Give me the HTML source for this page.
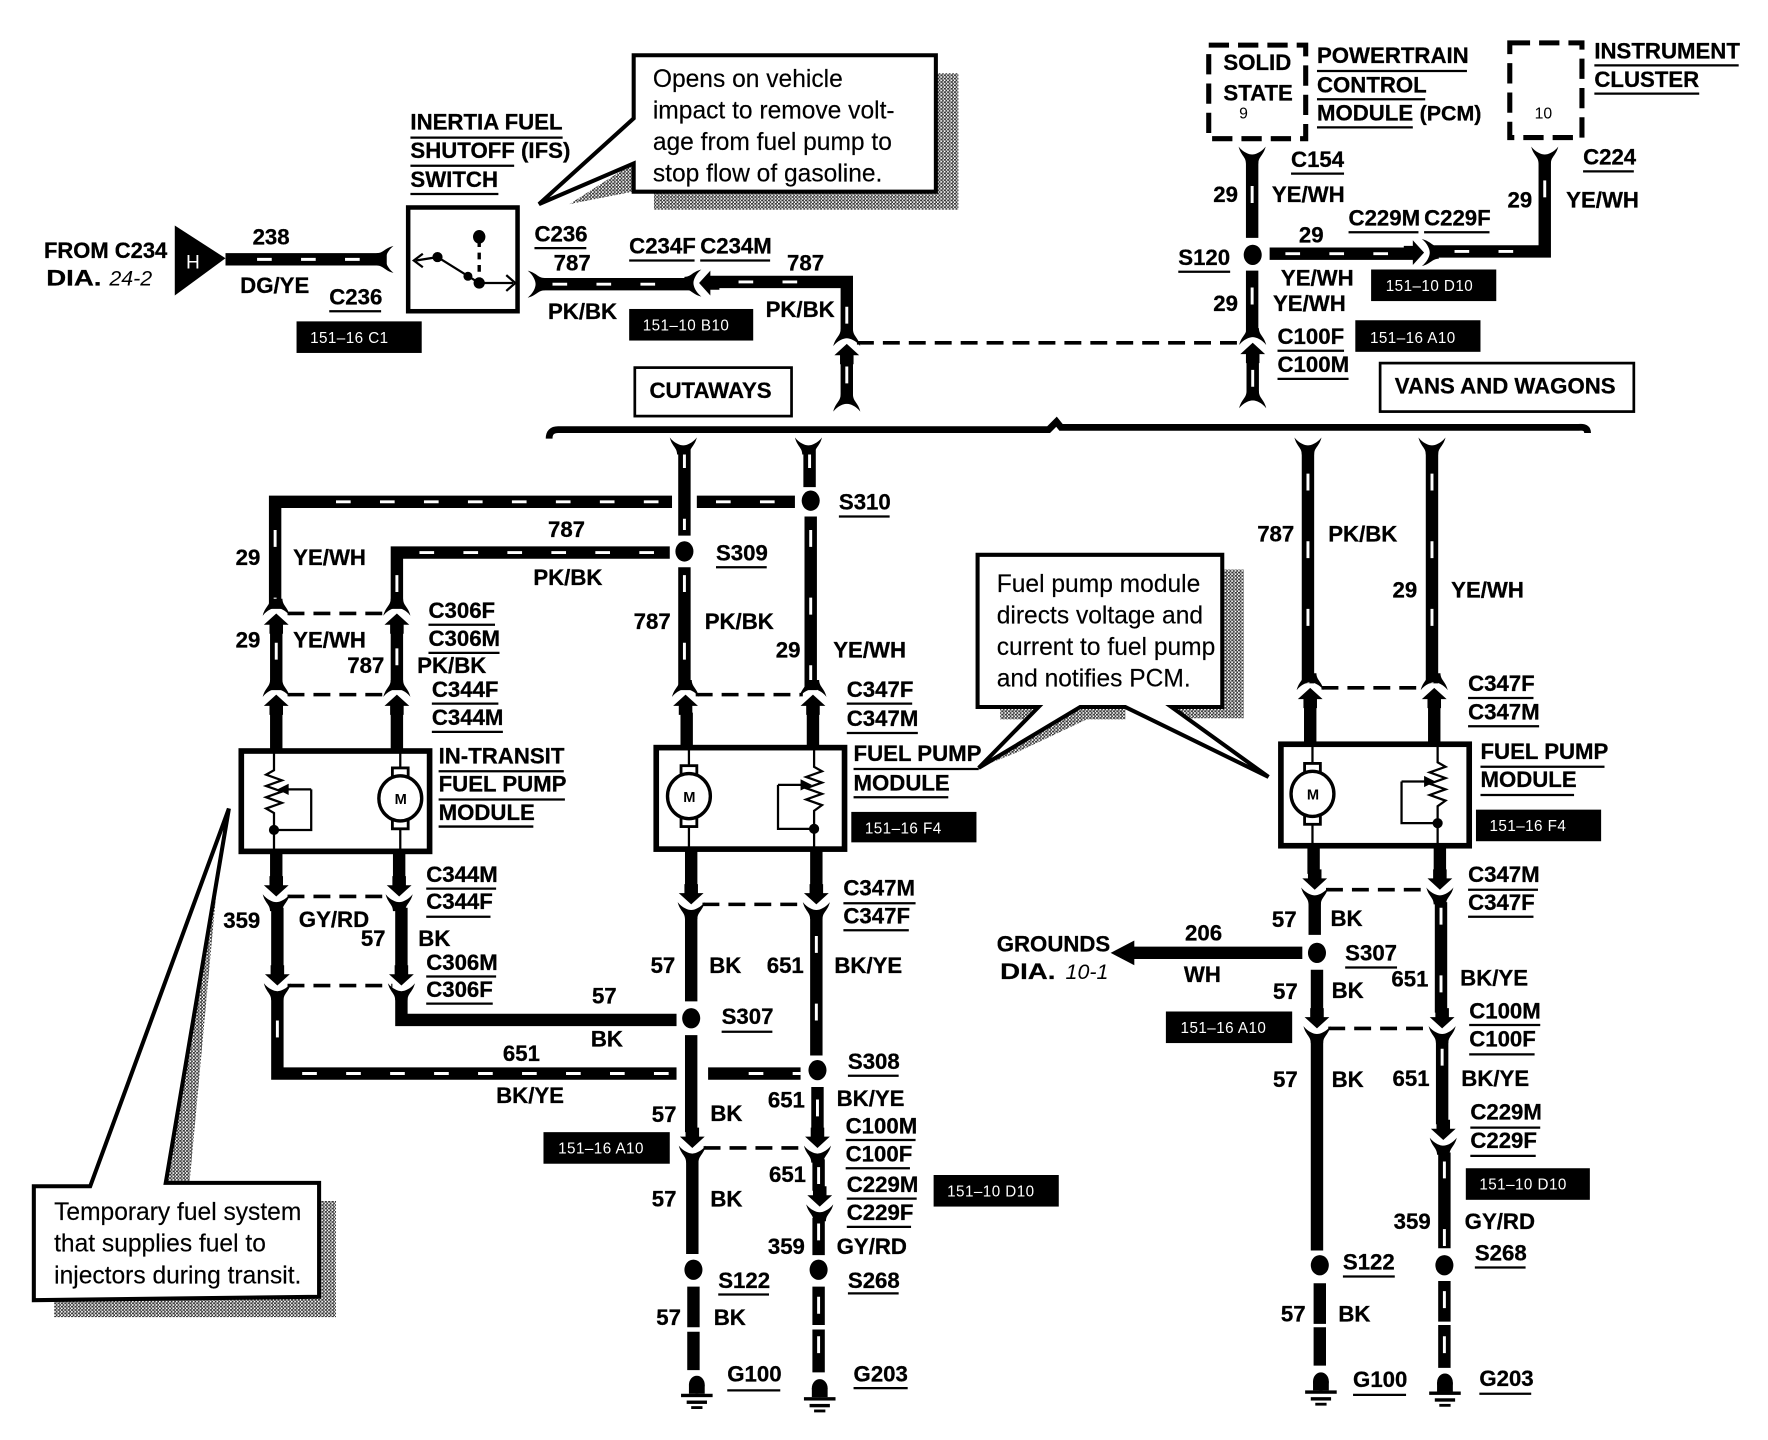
<!DOCTYPE html>
<html><head><meta charset="utf-8"><title>Fuel pump wiring diagram</title>
<style>
html,body{margin:0;padding:0;background:#fff}
svg{display:block;width:1768px;height:1440px}
text{font-family:"Liberation Sans",sans-serif;font-weight:700;font-size:19.7px;fill:#000;stroke:#000;stroke-width:.25px}
.r{font-weight:400;font-size:21.8px;stroke-width:.15px}
.s{font-weight:400;font-size:13.5px;fill:#fff;letter-spacing:.4px;stroke:none}
.n{font-weight:400;font-size:14px;stroke:none}
.i{font-weight:400;font-style:italic;font-size:19px;stroke:none}
.w{fill:none;stroke:#000;stroke-width:11}
.h{fill:none;stroke:#fff;stroke-width:2.6;stroke-dasharray:13 26}
.v{fill:none;stroke:#fff;stroke-width:2.6;stroke-dasharray:15 45}
.t{fill:none;stroke:#000;stroke-width:2}
.u{fill:none;stroke:#000;stroke-width:2}
.k{fill:none;stroke:#000;stroke-width:3.2;stroke-dasharray:15 8}
.b{fill:#000}
.c{fill:#fff;stroke:#000;stroke-width:3.6;stroke-linejoin:miter}
</style></head><body>
<svg xmlns="http://www.w3.org/2000/svg" viewBox="0 0 1568 1277" preserveAspectRatio="none">
<defs>
<pattern id="g" width="3" height="3" patternUnits="userSpaceOnUse"><rect width="3" height="3" fill="#fff"/><rect width="2" height="1.5" fill="#333"/><rect x="1.5" y="1.5" width="1.5" height="1.5" fill="#333"/></pattern>
<path id="fk" d="M-12,4C-10,-4-5.500,-5-5.500,-11L5.500,-11C5.500,-5 10,-4 12,4C8,-1 3,-3 0,-3C-3,-3-8,-1-12,4Z"/>
<g id="up"><use href="#fk" y="-2"/><path d="M0,0L-11,10-6,10-6,18 6,18 6,10 11,10Z"/></g>
<g id="gd"><ellipse cx="0" cy="8" rx="7" ry="8"/><rect x="-7" y="8" width="14" height="8"/><rect x="-14" y="16" width="28" height="3"/><rect x="-9" y="22" width="18" height="3"/><rect x="-5" y="27" width="10" height="2.500"/></g>
<g id="mo"><rect x="-7" y="-27" width="14" height="8" fill="#fff" stroke="#000" stroke-width="2.500"/><rect x="-7" y="19" width="14" height="8" fill="#fff" stroke="#000" stroke-width="2.500"/><ellipse rx="19" ry="20" fill="#fff" stroke="#000" stroke-width="3"/></g>
</defs>

<!-- callout shadows -->
<path fill="url(#g)" d="M580 170H850V186H580ZM830 65H850V186H830ZM505 181L561 145V170Z"/>
<path fill="url(#g)" d="M1085 505H1103V637H1085ZM887 627H921V638H887ZM1040 627H1103V637H1040ZM958 627H998V638H958ZM875 678L958 627L985 628L900 668Z"/>
<path fill="url(#g)" d="M48 1150H298V1168H48ZM283 1065H298V1168H283ZM148 1050L198 725L168 1050Z"/>

<!-- callouts -->
<path class="c" d="M562 49H830V170H562V145L478 181L562 105Z"/>
<path class="c" d="M867 492H1084V627H1039L1125 689L998 627H958L868 681L921 627H867Z"/>
<path class="c" d="M30 1052H80L203 717L147 1049H283V1150L30 1153Z"/>
<g class="r">
<text class="r" x="579" y="77">Opens on vehicle</text>
<text class="r" x="579" y="105">impact to remove volt-</text>
<text class="r" x="579" y="133">age from fuel pump to</text>
<text class="r" x="579" y="161">stop flow of gasoline.</text>
<text class="r" x="884" y="525">Fuel pump module</text>
<text class="r" x="884" y="553">directs voltage and</text>
<text class="r" x="884" y="581">current to fuel pump</text>
<text class="r" x="884" y="609">and notifies PCM.</text>
<text class="r" x="48" y="1082">Temporary fuel system</text>
<text class="r" x="48" y="1110">that supplies fuel to</text>
<text class="r" x="48" y="1138">injectors during transit.</text>
</g>

<!-- wires: black -->
<path class="w" d="M200 230H343"/>
<path class="w" d="M480 252H612M628 250H751V298M751 322V358"/>
<path class="w" d="M1110.500 142V211M1110.500 240V296M1111 320V355"/>
<path class="w" d="M1126 225H1256M1272 223H1370V142"/>
<path class="w" d="M596 445H244V540M618 445H705"/>
<path class="w" d="M594 490H352V540"/>
<path class="w" d="M245 560V612M352 560V612M245 632V665M352 632V665"/>
<path class="w" d="M607 398V475M607 503V612M609 632V662"/>
<path class="w" d="M718 398V432M719 458V612M721 632V662"/>
<path class="w" d="M1160 398V606M1270 398V606M1162 626V659M1272 626V659"/>
<path class="w" d="M245 755V778M354 755V778"/>
<path class="w" d="M246 805V860M356 805V860"/>
<path class="w" d="M246 885V952H600M628 952H710"/>
<path class="w" d="M356 885V904.500H600"/>
<path class="w" d="M613 754V788M724 754V788M613 812V888M613 918V1004M724 812V936M725 964V1004M614 1028V1112M726 1028V1056M726 1080V1113"/>
<path class="w" d="M615 1141V1177M615 1181V1215M726 1141V1175M726 1179V1217"/>
<path class="w" d="M1165 751V775M1277 751V775M1166 800V829M1168 860V898M1278 800V898M1168 922V1109M1279 922V997M1281 1022V1107"/>
<path class="w" d="M1170.500 1138V1174M1170.500 1177V1211M1281 1136V1172M1281 1175V1213"/>
<path class="w" d="M1155 845H1003"/>
<path class="b" d="M985 845L1006 834V856Z"/>

<!-- wires: white tracer dashes -->
<path class="h" d="M228 230H335"/>
<path class="h" d="M490 252H600M655 250H725"/>
<path class="v" d="M751 272V296M751 325V355"/>
<path class="v" d="M1110.500 165V210M1110.500 255V290M1111 328V355"/>
<path class="h" d="M1140 225H1250M1290 223H1365"/>
<path class="v" d="M1370 160V215"/>
<path class="h" d="M298 445H590M635 445H700"/>
<path class="v" d="M244 470V535M245 570V605"/>
<path class="h" d="M372 490H590"/>
<path class="v" d="M352 510V535M352 575V605"/>
<path class="v" d="M607 400V470M607 510V610"/>
<path class="v" d="M718 400V428M719 470V610"/>
<path class="v" d="M1160 420V606M1270 420V606"/>
<path class="v" d="M246 905V935"/>
<path class="h" d="M268 952H596M664 952H710"/>
<path class="v" d="M724 830V930M725 975V1000M726 1035V1050M726 1085V1110M726 1150V1172M726 1185V1215"/>
<path class="v" d="M1278 805V895M1279 930V985M1281 1030V1105M1281 1145V1170M1281 1185V1212"/>

<!-- connector dashed links -->
<path class="k" d="M760 304H1100"/>
<path class="k" d="M255 544H345M255 616H345M617 616H712M1172 610H1262M255 795H345M255 874H348M623 802H715M1176 789H1268M1178 912H1270M624 1018H716"/>

<!-- connectors -->
<use href="#up" x="245" y="544"/><use href="#up" x="352" y="544"/>
<use href="#up" x="245" y="616"/><use href="#up" x="352" y="616"/>
<use href="#up" x="608" y="616"/><use href="#up" x="721" y="616"/>
<use href="#up" x="1162" y="610"/><use href="#up" x="1272" y="610"/>
<use href="#up" x="751" y="305"/><use href="#up" x="1111" y="304"/>
<use href="#up" transform="translate(245 795) rotate(180)"/><use href="#up" transform="translate(354 795) rotate(180)"/>
<use href="#up" transform="translate(246 874) rotate(180)"/><use href="#up" transform="translate(356 874) rotate(180)"/>
<use href="#up" transform="translate(613 802) rotate(180)"/><use href="#up" transform="translate(724 802) rotate(180)"/>
<use href="#up" transform="translate(1166 789) rotate(180)"/><use href="#up" transform="translate(1277 789) rotate(180)"/>
<use href="#up" transform="translate(1168 912) rotate(180)"/><use href="#up" transform="translate(1279 912) rotate(180)"/>
<use href="#up" transform="translate(614 1018) rotate(180)"/><use href="#up" transform="translate(725 1018) rotate(180)"/>
<use href="#up" transform="translate(727 1070) rotate(180)"/><use href="#up" transform="translate(1280 1011) rotate(180)"/>
<use href="#up" transform="translate(620 251) rotate(-90)"/>
<use href="#up" transform="translate(1263 224) rotate(90)"/>
<use href="#fk" transform="translate(345 230) rotate(-90)"/>
<use href="#fk" transform="translate(472 252) rotate(90)"/>
<use href="#fk" transform="translate(1110.500 134) rotate(180)"/>
<use href="#fk" transform="translate(1370 134) rotate(180)"/>
<use href="#fk" transform="translate(606 392) rotate(180)"/>
<use href="#fk" transform="translate(717 392) rotate(180)"/>
<use href="#fk" transform="translate(1160 392) rotate(180)"/>
<use href="#fk" transform="translate(1270 392) rotate(180)"/>
<use href="#fk" x="751" y="361"/><use href="#fk" x="1111" y="358"/>

<!-- splice dots -->
<g class="b">
<ellipse cx="1111" cy="226" rx="8" ry="9"/>
<ellipse cx="719" cy="444" rx="8" ry="9"/>
<ellipse cx="607" cy="489" rx="8" ry="9"/>
<ellipse cx="613" cy="903" rx="8" ry="9"/>
<ellipse cx="725" cy="949" rx="8" ry="9"/>
<ellipse cx="615" cy="1126" rx="8" ry="9"/>
<ellipse cx="726" cy="1126" rx="8" ry="9"/>
<ellipse cx="1168" cy="845" rx="8" ry="9"/>
<ellipse cx="1170.500" cy="1122" rx="8" ry="9"/>
<ellipse cx="1281" cy="1122" rx="8" ry="9"/>
</g>
<use href="#gd" x="618" y="1220"/><use href="#gd" x="727" y="1223"/>
<use href="#gd" x="1171.500" y="1217"/><use href="#gd" x="1281.500" y="1218"/>

<!-- brace -->
<path d="M487 389Q487 381 495 381H930L937 374 941 379H1400Q1408 378 1408 384" fill="none" stroke="#000" stroke-width="6"/>

<!-- H triangle -->
<path class="b" d="M155 200L200 229 155 262Z"/>
<text x="165" y="238" style="fill:#fff;stroke:none;font-weight:400;font-size:17px">H</text>

<!-- inertia switch -->
<rect x="362" y="184" width="97" height="92" fill="#fff" stroke="#000" stroke-width="4"/>
<path class="t" d="M369 231L388 228 425 251H455"/>
<path class="t" d="M425 213V250" stroke-dasharray="6 5" style="stroke-width:3"/>
<path class="t" d="M375 225L367 231 375 237M449 244L457 251 449 258" />
<g class="b"><circle cx="388" cy="228" r="4.500"/><circle cx="415" cy="245" r="4"/><circle cx="425" cy="251" r="5"/><ellipse cx="425" cy="210" rx="5.500" ry="6"/></g>

<!-- labelled boxes -->
<rect x="563" y="326" width="139" height="43" fill="#fff" stroke="#000" stroke-width="2.400"/>
<rect x="1224" y="322" width="225" height="43" fill="#fff" stroke="#000" stroke-width="2.400"/>
<rect x="1072" y="40" width="86" height="83" fill="none" stroke="#000" stroke-width="4.500" stroke-dasharray="18 8"/>
<rect x="1339" y="38" width="64" height="84" fill="none" stroke="#000" stroke-width="4.500" stroke-dasharray="18 8"/>

<!-- in-transit module -->
<rect x="214" y="666" width="167" height="89" fill="#fff" stroke="#000" stroke-width="5"/>
<path class="t" d="M243 666V683L236 687 250 692 236 697 250 702 236 707 250 712 236 717 243 721V755"/>
<path class="t" d="M276 700H254M276 700V736H243"/><path class="b" d="M246 700L256 695V705Z"/><circle class="b" cx="243" cy="736" r="4.500"/>
<path class="t" d="M355 666V755"/><use href="#mo" x="355" y="708"/>
<text class="n" x="350" y="713" style="font-size:13px;font-weight:700">M</text>
<!-- middle module -->
<rect x="582" y="663" width="167" height="90" fill="#fff" stroke="#000" stroke-width="5"/>
<path class="t" d="M722 663V680L729 684 715 689 729 694 715 699 729 704 715 709 729 714 722 719V753"/>
<path class="t" d="M690 696H712M690 696V735H722"/><path class="b" d="M720 696L710 691V701Z"/><circle class="b" cx="722" cy="735" r="4.500"/>
<path class="t" d="M611 663V753"/><use href="#mo" x="611" y="706"/>
<text class="n" x="606" y="711" style="font-size:13px;font-weight:700">M</text>
<!-- right module -->
<rect x="1136" y="660" width="167" height="90" fill="#fff" stroke="#000" stroke-width="5"/>
<path class="t" d="M1275 660V676L1282 680 1268 685 1282 690 1268 695 1282 700 1268 705 1282 710 1275 715V750"/>
<path class="t" d="M1243 693H1265M1243 693V730H1275"/><path class="b" d="M1273 693L1263 688V698Z"/><circle class="b" cx="1275" cy="730" r="4.500"/>
<path class="t" d="M1164 660V750"/><use href="#mo" x="1164" y="704"/>
<text class="n" x="1159" y="709" style="font-size:13px;font-weight:700">M</text>

<!-- black reference tags -->
<g class="b">
<rect x="263" y="285" width="111" height="28"/><rect x="558" y="274" width="110" height="28"/>
<rect x="1216" y="239" width="111" height="28"/><rect x="1202" y="284" width="111" height="28"/>
<rect x="755" y="720" width="111" height="27"/><rect x="1309" y="718" width="111" height="28"/>
<rect x="1034" y="897" width="112" height="28"/><rect x="482" y="1004" width="112" height="28"/>
<rect x="828" y="1042" width="111" height="28"/><rect x="1300" y="1036" width="110" height="28"/>
</g>
<text class="s" x="275" y="304">151–16 C1</text>
<text class="s" x="570" y="293">151–10 B10</text>
<text class="s" x="1229" y="258">151–10 D10</text>
<text class="s" x="1215" y="304">151–16 A10</text>
<text class="s" x="767" y="739">151–16 F4</text>
<text class="s" x="1321" y="737">151–16 F4</text>
<text class="s" x="1047" y="916">151–16 A10</text>
<text class="s" x="495" y="1023">151–16 A10</text>
<text class="s" x="840" y="1061">151–10 D10</text>
<text class="s" x="1312" y="1055">151–10 D10</text>

<!-- underlines -->
<path class="u" d="M292 276H338M364 122H499M364 147H456M364 172H442M474 220H520M558 231H616M621 231H683M1168 63H1301M1168 88H1264M1168 113H1253M1414 58H1542M1414 83H1507M1145 154H1192M1045 241H1091M1196 206H1258M1263 206H1321M1133 311H1192M1133 336H1196M1404 152H1449M744 458H789M635 503H680M380 554H439M380 579H443M383 624H442M383 649H446M751 624H809M751 650H814M389 684H500M389 709H501M389 733H473M757 682H868M757 707H841M378 788H440M378 813H435M378 866H440M378 890H437M748 801H812M748 825H806M640 915H685M752 954H797M750 1011H812M750 1036H807M751 1063H813M751 1088H808M637 1148H682M752 1147H797M645 1233H692M757 1231H805M1302 619H1360M1302 644H1365M1313 680H1423M1313 705H1396M1302 789H1364M1302 813H1360M1193 858H1239M1303 909H1366M1303 935H1361M1304 1000H1366M1304 1025H1362M1308 1124H1353M1191 1132H1237M1200 1237H1247M1312 1236H1358"/>

<!-- labels -->
<text x="39" y="229" style="font-size:19.5px">FROM C234</text>
<text x="41" y="253" textLength="49" lengthAdjust="spacingAndGlyphs">DIA.</text><text class="i" x="97" y="253">24-2</text>
<text x="224" y="217">238</text><text x="213" y="260">DG/YE</text><text x="292" y="270">C236</text>
<text x="364" y="115">INERTIA FUEL</text><text x="364" y="140">SHUTOFF (IFS)</text><text x="364" y="166">SWITCH</text>
<text x="474" y="214">C236</text><text x="491" y="240">787</text><text x="558" y="225">C234F</text><text x="621" y="225">C234M</text><text x="698" y="240">787</text>
<text x="486" y="283">PK/BK</text><text x="679" y="281">PK/BK</text><text x="576" y="353">CUTAWAYS</text>
<text x="1085" y="62">SOLID</text><text x="1085" y="89">STATE</text><text class="n" x="1099" y="105">9</text>
<text x="1168" y="56">POWERTRAIN</text><text x="1168" y="82">CONTROL</text><text x="1168" y="107">MODULE</text><text x="1259" y="107" style="font-size:19px">(PCM)</text>
<text class="n" x="1361" y="105">10</text><text x="1414" y="52">INSTRUMENT</text><text x="1414" y="77">CLUSTER</text>
<text x="1145" y="148">C154</text><text x="1076" y="179">29</text><text x="1128" y="179">YE/WH</text>
<text x="1045" y="235">S120</text><text x="1152" y="215">29</text><text x="1196" y="200">C229M</text><text x="1263" y="200">C229F</text>
<text x="1136" y="253">YE/WH</text><text x="1076" y="276">29</text><text x="1129" y="276">YE/WH</text>
<text x="1133" y="305">C100F</text><text x="1133" y="330">C100M</text>
<text x="1404" y="146">C224</text><text x="1337" y="184">29</text><text x="1389" y="184">YE/WH</text>
<text x="1237" y="349">VANS AND WAGONS</text>
<text x="744" y="452">S310</text><text x="635" y="497">S309</text><text x="486" y="476">787</text><text x="473" y="519">PK/BK</text>
<text x="209" y="501">29</text><text x="260" y="501">YE/WH</text><text x="380" y="548">C306F</text><text x="380" y="573">C306M</text>
<text x="209" y="574">29</text><text x="260" y="574">YE/WH</text><text x="308" y="597">787</text><text x="370" y="597">PK/BK</text>
<text x="383" y="618">C344F</text><text x="383" y="643">C344M</text>
<text x="562" y="558">787</text><text x="625" y="558">PK/BK</text><text x="688" y="583">29</text><text x="739" y="583">YE/WH</text>
<text x="751" y="618">C347F</text><text x="751" y="644">C347M</text>
<text x="389" y="677">IN-TRANSIT</text><text x="389" y="702">FUEL PUMP</text><text x="389" y="727">MODULE</text>
<text x="757" y="675">FUEL PUMP</text><text x="757" y="701">MODULE</text>
<text x="378" y="782">C344M</text><text x="378" y="806">C344F</text><text x="198" y="823">359</text><text x="265" y="822">GY/RD</text>
<text x="320" y="839">57</text><text x="371" y="839">BK</text><text x="378" y="860">C306M</text><text x="378" y="884">C306F</text>
<text x="748" y="794">C347M</text><text x="748" y="819">C347F</text>
<text x="577" y="863">57</text><text x="629" y="863">BK</text><text x="680" y="863">651</text><text x="740" y="863">BK/YE</text>
<text x="525" y="890">57</text><text x="524" y="928">BK</text><text x="640" y="908">S307</text><text x="446" y="941">651</text><text x="440" y="978">BK/YE</text>
<text x="752" y="948">S308</text><text x="578" y="995">57</text><text x="630" y="994">BK</text><text x="681" y="982">651</text><text x="742" y="981">BK/YE</text>
<text x="750" y="1005">C100M</text><text x="750" y="1030">C100F</text><text x="682" y="1048">651</text>
<text x="751" y="1057">C229M</text><text x="751" y="1082">C229F</text>
<text x="578" y="1070">57</text><text x="630" y="1070">BK</text><text x="681" y="1112">359</text><text x="742" y="1112">GY/RD</text>
<text x="637" y="1142">S122</text><text x="752" y="1142">S268</text><text x="582" y="1175">57</text><text x="633" y="1175">BK</text>
<text x="645" y="1225">G100</text><text x="757" y="1225">G203</text>
<text x="1115" y="480">787</text><text x="1178" y="480">PK/BK</text><text x="1235" y="530">29</text><text x="1287" y="530">YE/WH</text>
<text x="1302" y="613">C347F</text><text x="1302" y="638">C347M</text>
<text x="1313" y="673">FUEL PUMP</text><text x="1313" y="698">MODULE</text>
<text x="1302" y="782">C347M</text><text x="1302" y="807">C347F</text>
<text x="1128" y="822">57</text><text x="1180" y="821">BK</text>
<text x="884" y="844">GROUNDS</text><text x="887" y="868" textLength="49" lengthAdjust="spacingAndGlyphs">DIA.</text><text class="i" x="945" y="868">10-1</text>
<text x="1051" y="834">206</text><text x="1050" y="871">WH</text><text x="1193" y="852">S307</text>
<text x="1129" y="886">57</text><text x="1181" y="885">BK</text><text x="1234" y="875">651</text><text x="1295" y="874">BK/YE</text>
<text x="1303" y="903">C100M</text><text x="1303" y="928">C100F</text>
<text x="1129" y="964">57</text><text x="1181" y="964">BK</text><text x="1235" y="963">651</text><text x="1296" y="963">BK/YE</text>
<text x="1304" y="993">C229M</text><text x="1304" y="1018">C229F</text>
<text x="1236" y="1090">359</text><text x="1299" y="1090">GY/RD</text><text x="1308" y="1118">S268</text><text x="1191" y="1126">S122</text>
<text x="1136" y="1172">57</text><text x="1187" y="1172">BK</text><text x="1200" y="1230">G100</text><text x="1312" y="1229">G203</text>
</svg>
</body></html>
